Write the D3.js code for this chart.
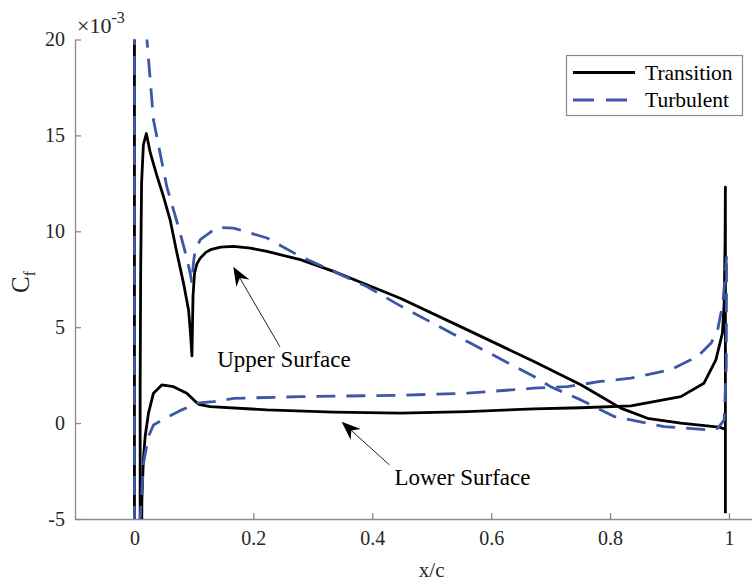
<!DOCTYPE html>
<html>
<head>
<meta charset="utf-8">
<script src="https://cdn.jsdelivr.net/npm/d3@7"></script>
<style>
  html, body { margin: 0; padding: 0; background: #fff; }
  svg { display: block; font-family: "Liberation Serif", "Times New Roman", serif; }
</style>
</head>
<body>
<div id="chart"></div>
<script>
// skin friction coefficient along the chord, values in units of 1e-3
const transUpperX = [0.0, 0.0, 0.0096, 0.0096, 0.0105, 0.012, 0.015, 0.02, 0.0266, 0.0377, 0.049, 0.06, 0.0714, 0.0825, 0.091, 0.0945, 0.0967, 0.0985, 0.101, 0.105, 0.1107, 0.12, 0.128, 0.145, 0.1667, 0.195, 0.223, 0.279, 0.335, 0.391, 0.448, 0.56, 0.672, 0.7508, 0.784, 0.818, 0.863, 0.919, 0.975, 0.985, 0.992];
const transUpperY = [30, -10, -10, 2, 8, 12.5, 14.5, 15.1, 14.1, 12.9, 11.8, 10.6, 8.87, 7.3, 5.9, 4.6, 3.5, 6.6, 7.8, 8.3, 8.6, 8.9, 9.04, 9.17, 9.21, 9.12, 8.95, 8.52, 7.91, 7.21, 6.5, 4.86, 3.21, 2.0, 1.4, 0.78, 0.25, 0.0, -0.18, -0.22, -0.3];

const transLowerX = [0.0115, 0.0125, 0.015, 0.018, 0.0236, 0.032, 0.046, 0.0657, 0.088, 0.1, 0.108, 0.1275, 0.223, 0.335, 0.448, 0.56, 0.672, 0.7508, 0.835, 0.919, 0.958, 0.978, 0.989, 0.992, 0.9935, 0.994, 0.994];
const transLowerY = [-10, -4, -1.92, -0.7, 0.52, 1.56, 1.99, 1.9, 1.56, 1.2, 0.98, 0.86, 0.69, 0.57, 0.52, 0.6, 0.74, 0.8, 0.9, 1.38, 2.08, 3.3, 4.69, 6.3, 9.5, 12.3, -4.7];

const turbUpperX = [0.0, 0.0, 0.02, 0.021, 0.032, 0.0546, 0.077, 0.088, 0.0938, 0.0967, 0.099, 0.102, 0.1107, 0.1275, 0.139, 0.1667, 0.223, 0.279, 0.335, 0.391, 0.448, 0.56, 0.672, 0.7, 0.7508, 0.784, 0.807, 0.891, 0.964, 0.981, 0.992, 0.9955, 0.996];
const turbUpperY = [-10, 30, 30, 20, 15.8, 12.3, 9.9, 8.6, 7.8, 7.3, 8.3, 9.0, 9.56, 9.95, 10.2, 10.17, 9.65, 8.69, 7.91, 7.12, 6.1, 4.25, 2.43, 1.9, 1.21, 0.69, 0.34, -0.18, -0.35, -0.27, 0.17, 3.0, 8.7];

const turbLowerX = [0.0096, 0.0096, 0.0152, 0.0236, 0.032, 0.0517, 0.0798, 0.105, 0.133, 0.167, 0.279, 0.448, 0.56, 0.672, 0.728, 0.784, 0.835, 0.902, 0.947, 0.97, 0.981, 0.99, 0.996];
const turbLowerY = [-10, -5, -2.09, -0.7, -0.1, 0.25, 0.69, 1.04, 1.12, 1.29, 1.38, 1.45, 1.56, 1.82, 1.9, 2.17, 2.34, 2.78, 3.47, 4.17, 4.86, 6.3, 8.7];

const xTicks = [0, 0.2, 0.4, 0.6, 0.8, 1];
const yTicks = [-5, 0, 5, 10, 15, 20];
const seriesNames = ["Transition", "Turbulent"];

// annotation arrows: [tailX, tailY, tipX, tipY], labels at [x, y]
const upperArrow = [0.2447, 3.98, 0.1662, 8.15];
const lowerArrow = [0.4289, -2.18, 0.3485, 0.07];
const upperLabel = [0.2515, 2.94, "Upper Surface"];
const lowerLabel = [0.5517, -3.23, "Lower Surface"];

const width = 752, height = 582;
const plot = {left: 75, top: 39.5, bottom: 519};

const x = d3.scaleLinear().domain([-0.1, 1.1]).range([plot.left, plot.left + 1.2 * 594.5]);
const y = d3.scaleLinear().domain([-5, 20]).range([plot.bottom, plot.top]);

const svg = d3.select("#chart").append("svg")
    .attr("width", width)
    .attr("height", height);

svg.append("defs").append("clipPath")
    .attr("id", "clip")
    .append("rect")
    .attr("x", plot.left)
    .attr("y", plot.top)
    .attr("width", width - plot.left)
    .attr("height", plot.bottom - plot.top);

const axisColor = "#8a8a8a";

// x axis, ticks pointing up into the plot
const gx = svg.append("g")
    .attr("transform", `translate(0,${plot.bottom})`)
    .call(d3.axisBottom(x).tickValues(xTicks).tickSize(-6).tickSizeOuter(0).tickPadding(12)
        .tickFormat(d => String(d)));

// y axis, ticks pointing right
const gy = svg.append("g")
    .attr("transform", `translate(${plot.left},0)`)
    .call(d3.axisLeft(y).tickValues(yTicks).tickSize(-6).tickSizeOuter(0).tickPadding(10)
        .tickFormat(d => String(d)));

[gx, gy].forEach(g => {
    g.select(".domain").attr("stroke", axisColor).attr("stroke-width", 1.3);
    g.selectAll(".tick line").attr("stroke", axisColor).attr("stroke-width", 1.3);
    g.selectAll(".tick text")
        .attr("fill", "#262626")
        .attr("font-size", "20px")
        .attr("font-family", "Liberation Serif, serif");
});

// exponent above the y axis
const expo = svg.append("text")
    .attr("x", 77)
    .attr("y", 33)
    .attr("fill", "#262626")
    .attr("font-size", "22px");
expo.append("tspan").text("\u00d710");
expo.append("tspan").attr("dy", -10).attr("font-size", "16px").text("-3");

// axis titles
svg.append("text")
    .attr("x", x(0.5))
    .attr("y", 577)
    .attr("text-anchor", "middle")
    .attr("fill", "#262626")
    .attr("font-size", "21px")
    .text("x/c");

const yl = svg.append("text")
    .attr("transform", "translate(29,282) rotate(-90)")
    .attr("text-anchor", "middle")
    .attr("fill", "#262626")
    .attr("font-size", "25px");
yl.append("tspan").text("C");
yl.append("tspan").attr("dy", 6).attr("font-size", "16px").text("f");

const line = d3.line()
    .x(d => x(d[0]))
    .y(d => y(d[1]));

const zip = (xs, ys) => xs.map((v, i) => [v, ys[i]]);

const curves = svg.append("g").attr("clip-path", "url(#clip)");

const blue = "#3d57a8";
const styles = {
    Transition: {stroke: "#000", dash: null},
    Turbulent: {stroke: blue, dash: "19,11"}
};

const series = [
    {name: "Transition", pts: zip(transUpperX, transUpperY)},
    {name: "Transition", pts: zip(transLowerX, transLowerY)},
    {name: "Turbulent", pts: zip(turbUpperX, turbUpperY)},
    {name: "Turbulent", pts: zip(turbLowerX, turbLowerY)}
];

curves.selectAll("path")
    .data(series)
    .enter().append("path")
    .attr("d", d => line(d.pts))
    .attr("fill", "none")
    .attr("stroke", d => styles[d.name].stroke)
    .attr("stroke-width", 2.8)
    .attr("stroke-linejoin", "round")
    .attr("stroke-dasharray", d => styles[d.name].dash);

// arrows with notched heads
function drawArrow(a) {
    const x0 = x(a[0]), y0 = y(a[1]), x1 = x(a[2]), y1 = y(a[3]);
    const dx = x1 - x0, dy = y1 - y0, len = Math.hypot(dx, dy);
    const ux = dx / len, uy = dy / len, nx = -uy, ny = ux;
    const headLen = 19, headW = 7.5, notch = 13;
    svg.append("line")
        .attr("x1", x0).attr("y1", y0)
        .attr("x2", x1 - ux * notch).attr("y2", y1 - uy * notch)
        .attr("stroke", "#222").attr("stroke-width", 1);
    const bx = x1 - ux * headLen, by = y1 - uy * headLen;
    const pts = [
        [x1, y1],
        [bx + nx * headW, by + ny * headW],
        [x1 - ux * notch, y1 - uy * notch],
        [bx - nx * headW, by - ny * headW]
    ];
    svg.append("polygon")
        .attr("points", pts.map(p => p.join(",")).join(" "))
        .attr("fill", "#000");
}
drawArrow(upperArrow);
drawArrow(lowerArrow);

[upperLabel, lowerLabel].forEach(l => {
    svg.append("text")
        .attr("x", x(l[0]))
        .attr("y", y(l[1]))
        .attr("text-anchor", "middle")
        .attr("fill", "#000")
        .attr("font-size", "23px")
        .text(l[2]);
});

// legend
const legend = svg.append("g");
legend.append("rect")
    .attr("x", 566.5).attr("y", 55.5)
    .attr("width", 176).attr("height", 60)
    .attr("fill", "#fff")
    .attr("stroke", "#8a8a8a")
    .attr("stroke-width", 1.2);

seriesNames.forEach((name, i) => {
    const ly = 72.5 + i * 27.5;
    legend.append("line")
        .attr("x1", 573).attr("x2", 635)
        .attr("y1", ly).attr("y2", ly)
        .attr("stroke", styles[name].stroke)
        .attr("stroke-width", 2.8)
        .attr("stroke-dasharray", styles[name].dash ? "21,12" : null);
    legend.append("text")
        .attr("x", 645)
        .attr("y", ly + 7)
        .attr("fill", "#000")
        .attr("font-size", "21.5px")
        .text(name);
});
</script>
</body>
</html>
